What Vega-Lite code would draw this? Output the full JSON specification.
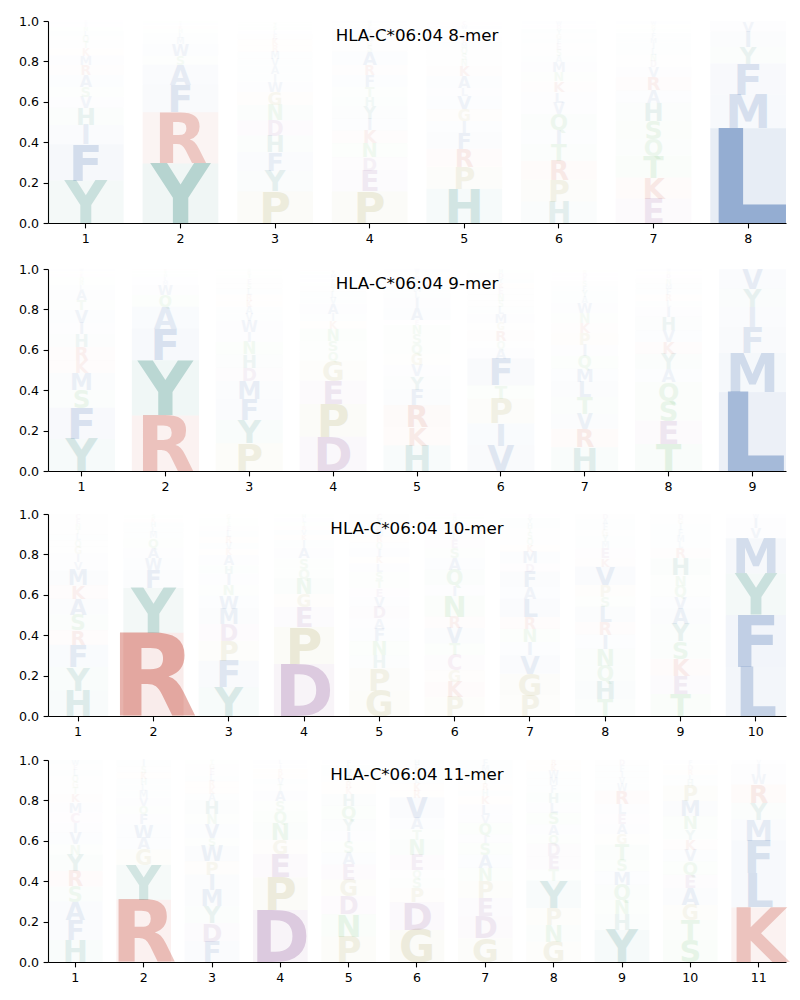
{
"$schema": "https://vega.github.io/schema/vega-lite/v6.json",
"padding": {"left": 18, "top": 15, "right": 5, "bottom": 5},
"background": "white",
"spacing": 14,
"config": {
  "view": {"stroke": null},
  "axis": {"labelFont": "DejaVu Sans", "labelFontSize": 12.6, "labelColor": "black", "tickColor": "black", "domainColor": "black", "tickSize": 4.9, "tickWidth": 1.1, "domainWidth": 1.1, "grid": false, "title": null, "labelPadding": 4.5}
},
"datasets": {
"m8": [
{"i":1,"a":"Y","h":0.21,"k":1},{"i":1,"a":"F","h":0.18,"k":2},{"i":1,"a":"I","h":0.094,"k":3},{"i":1,"a":"H","h":0.086,"k":4},{"i":1,"a":"V","h":0.055,"k":5},{"i":1,"a":"S","h":0.05,"k":6},{"i":1,"a":"A","h":0.058,"k":7},{"i":1,"a":"R","h":0.05,"k":8},{"i":1,"a":"M","h":0.046,"k":9},{"i":1,"a":"K","h":0.036,"k":10},{"i":1,"a":"T","h":0.03,"k":11},{"i":1,"a":"Q","h":0.03,"k":12},{"i":1,"a":"L","h":0.025,"k":13},{"i":1,"a":"N","h":0.02,"k":14},{"i":1,"a":"E","h":0.015,"k":15},{"i":1,"a":"W","h":0.01,"k":16},{"i":1,"a":"C","h":0.01,"k":17},
{"i":2,"a":"Y","h":0.295,"k":1},{"i":2,"a":"R","h":0.253,"k":2},{"i":2,"a":"F","h":0.136,"k":3},{"i":2,"a":"A","h":0.099,"k":4},{"i":2,"a":"S","h":0.045,"k":5},{"i":2,"a":"W","h":0.058,"k":6},{"i":2,"a":"M","h":0.03,"k":7},{"i":2,"a":"L","h":0.025,"k":8},{"i":2,"a":"H","h":0.02,"k":9},{"i":2,"a":"K","h":0.015,"k":10},{"i":2,"a":"I","h":0.014,"k":11},{"i":2,"a":"T","h":0.01,"k":12},
{"i":3,"a":"P","h":0.156,"k":1},{"i":3,"a":"Y","h":0.103,"k":2},{"i":3,"a":"F","h":0.091,"k":3},{"i":3,"a":"H","h":0.083,"k":4},{"i":3,"a":"D","h":0.075,"k":5},{"i":3,"a":"N","h":0.075,"k":6},{"i":3,"a":"G","h":0.066,"k":7},{"i":3,"a":"W","h":0.05,"k":8},{"i":3,"a":"I","h":0.04,"k":9},{"i":3,"a":"A","h":0.04,"k":10},{"i":3,"a":"V","h":0.035,"k":11},{"i":3,"a":"M","h":0.035,"k":12},{"i":3,"a":"R","h":0.03,"k":13},{"i":3,"a":"K","h":0.03,"k":14},{"i":3,"a":"E","h":0.025,"k":15},{"i":3,"a":"L","h":0.02,"k":16},{"i":3,"a":"S","h":0.02,"k":17},{"i":3,"a":"T","h":0.015,"k":18},{"i":3,"a":"Q","h":0.01,"k":19},
{"i":4,"a":"P","h":0.156,"k":1},{"i":4,"a":"E","h":0.103,"k":2},{"i":4,"a":"D","h":0.066,"k":3},{"i":4,"a":"N","h":0.07,"k":4},{"i":4,"a":"K","h":0.063,"k":5},{"i":4,"a":"I","h":0.058,"k":6},{"i":4,"a":"Y","h":0.063,"k":7},{"i":4,"a":"H","h":0.045,"k":8},{"i":4,"a":"T","h":0.05,"k":9},{"i":4,"a":"F","h":0.058,"k":10},{"i":4,"a":"R","h":0.05,"k":11},{"i":4,"a":"A","h":0.066,"k":12},{"i":4,"a":"S","h":0.03,"k":13},{"i":4,"a":"G","h":0.025,"k":14},{"i":4,"a":"M","h":0.025,"k":15},{"i":4,"a":"V","h":0.025,"k":16},{"i":4,"a":"L","h":0.02,"k":17},{"i":4,"a":"Q","h":0.015,"k":18},{"i":4,"a":"W","h":0.014,"k":19},
{"i":5,"a":"H","h":0.17,"k":1},{"i":5,"a":"P","h":0.109,"k":2},{"i":5,"a":"R","h":0.089,"k":3},{"i":5,"a":"F","h":0.079,"k":4},{"i":5,"a":"I","h":0.058,"k":5},{"i":5,"a":"G","h":0.058,"k":6},{"i":5,"a":"V","h":0.066,"k":7},{"i":5,"a":"L","h":0.041,"k":8},{"i":5,"a":"A","h":0.058,"k":9},{"i":5,"a":"K","h":0.05,"k":10},{"i":5,"a":"N","h":0.03,"k":11},{"i":5,"a":"S","h":0.03,"k":12},{"i":5,"a":"Q","h":0.03,"k":13},{"i":5,"a":"M","h":0.025,"k":14},{"i":5,"a":"E","h":0.025,"k":15},{"i":5,"a":"D","h":0.02,"k":16},{"i":5,"a":"T","h":0.02,"k":17},{"i":5,"a":"W","h":0.02,"k":18},{"i":5,"a":"C","h":0.02,"k":19},
{"i":6,"a":"H","h":0.106,"k":1},{"i":6,"a":"P","h":0.108,"k":2},{"i":6,"a":"R","h":0.094,"k":3},{"i":6,"a":"T","h":0.083,"k":4},{"i":6,"a":"I","h":0.071,"k":5},{"i":6,"a":"Q","h":0.078,"k":6},{"i":6,"a":"V","h":0.055,"k":7},{"i":6,"a":"L","h":0.053,"k":8},{"i":6,"a":"K","h":0.053,"k":9},{"i":6,"a":"N","h":0.046,"k":10},{"i":6,"a":"M","h":0.05,"k":11},{"i":6,"a":"A","h":0.03,"k":12},{"i":6,"a":"S","h":0.03,"k":13},{"i":6,"a":"E","h":0.03,"k":14},{"i":6,"a":"F","h":0.025,"k":15},{"i":6,"a":"G","h":0.025,"k":16},{"i":6,"a":"Y","h":0.025,"k":17},{"i":6,"a":"D","h":0.02,"k":18},{"i":6,"a":"W","h":0.019,"k":19},
{"i":7,"a":"E","h":0.121,"k":1},{"i":7,"a":"K","h":0.104,"k":2},{"i":7,"a":"T","h":0.108,"k":3},{"i":7,"a":"Q","h":0.083,"k":4},{"i":7,"a":"S","h":0.091,"k":5},{"i":7,"a":"H","h":0.088,"k":6},{"i":7,"a":"A","h":0.061,"k":7},{"i":7,"a":"R","h":0.066,"k":8},{"i":7,"a":"V","h":0.05,"k":9},{"i":7,"a":"D","h":0.03,"k":10},{"i":7,"a":"N","h":0.03,"k":11},{"i":7,"a":"L","h":0.03,"k":12},{"i":7,"a":"I","h":0.03,"k":13},{"i":7,"a":"M","h":0.025,"k":14},{"i":7,"a":"F","h":0.025,"k":15},{"i":7,"a":"Y","h":0.02,"k":16},{"i":7,"a":"G","h":0.02,"k":17},{"i":7,"a":"W","h":0.018,"k":18},
{"i":8,"a":"L","h":0.469,"k":1},{"i":8,"a":"M","h":0.166,"k":2},{"i":8,"a":"F","h":0.154,"k":3},{"i":8,"a":"Y","h":0.083,"k":4},{"i":8,"a":"I","h":0.075,"k":5},{"i":8,"a":"V","h":0.053,"k":6}
],
"m9": [
{"i":1,"a":"Y","h":0.159,"k":1},{"i":1,"a":"F","h":0.154,"k":2},{"i":1,"a":"S","h":0.089,"k":3},{"i":1,"a":"M","h":0.083,"k":4},{"i":1,"a":"K","h":0.063,"k":5},{"i":1,"a":"R","h":0.066,"k":6},{"i":1,"a":"H","h":0.063,"k":7},{"i":1,"a":"I","h":0.056,"k":8},{"i":1,"a":"V","h":0.063,"k":9},{"i":1,"a":"T","h":0.05,"k":10},{"i":1,"a":"A","h":0.05,"k":11},{"i":1,"a":"L","h":0.025,"k":12},{"i":1,"a":"N","h":0.02,"k":13},{"i":1,"a":"Q","h":0.02,"k":14},{"i":1,"a":"E","h":0.015,"k":15},{"i":1,"a":"G","h":0.012,"k":16},{"i":1,"a":"W","h":0.012,"k":17},
{"i":2,"a":"R","h":0.275,"k":1},{"i":2,"a":"Y","h":0.273,"k":2},{"i":2,"a":"F","h":0.157,"k":3},{"i":2,"a":"A","h":0.108,"k":4},{"i":2,"a":"Q","h":0.058,"k":5},{"i":2,"a":"W","h":0.05,"k":6},{"i":2,"a":"M","h":0.02,"k":7},{"i":2,"a":"L","h":0.02,"k":8},{"i":2,"a":"H","h":0.015,"k":9},{"i":2,"a":"S","h":0.015,"k":10},{"i":2,"a":"K","h":0.01,"k":11},
{"i":3,"a":"P","h":0.137,"k":1},{"i":3,"a":"Y","h":0.116,"k":2},{"i":3,"a":"F","h":0.104,"k":3},{"i":3,"a":"M","h":0.088,"k":4},{"i":3,"a":"D","h":0.066,"k":5},{"i":3,"a":"H","h":0.066,"k":6},{"i":3,"a":"N","h":0.061,"k":7},{"i":3,"a":"I","h":0.05,"k":8},{"i":3,"a":"W","h":0.055,"k":9},{"i":3,"a":"V","h":0.035,"k":10},{"i":3,"a":"A","h":0.035,"k":11},{"i":3,"a":"K","h":0.03,"k":12},{"i":3,"a":"R","h":0.03,"k":13},{"i":3,"a":"L","h":0.03,"k":14},{"i":3,"a":"S","h":0.025,"k":15},{"i":3,"a":"E","h":0.025,"k":16},{"i":3,"a":"T","h":0.02,"k":17},{"i":3,"a":"G","h":0.015,"k":18},{"i":3,"a":"Q","h":0.012,"k":19},
{"i":4,"a":"D","h":0.17,"k":1},{"i":4,"a":"P","h":0.162,"k":2},{"i":4,"a":"E","h":0.116,"k":3},{"i":4,"a":"G","h":0.099,"k":4},{"i":4,"a":"Q","h":0.046,"k":5},{"i":4,"a":"S","h":0.053,"k":6},{"i":4,"a":"N","h":0.058,"k":7},{"i":4,"a":"K","h":0.038,"k":8},{"i":4,"a":"I","h":0.036,"k":9},{"i":4,"a":"A","h":0.05,"k":10},{"i":4,"a":"V","h":0.03,"k":11},{"i":4,"a":"L","h":0.03,"k":12},{"i":4,"a":"T","h":0.025,"k":13},{"i":4,"a":"H","h":0.02,"k":14},{"i":4,"a":"F","h":0.02,"k":15},{"i":4,"a":"M","h":0.02,"k":16},{"i":4,"a":"Y","h":0.015,"k":17},{"i":4,"a":"R","h":0.01,"k":18},
{"i":5,"a":"H","h":0.126,"k":1},{"i":5,"a":"K","h":0.091,"k":2},{"i":5,"a":"R","h":0.108,"k":3},{"i":5,"a":"F","h":0.078,"k":4},{"i":5,"a":"Y","h":0.066,"k":5},{"i":5,"a":"V","h":0.055,"k":6},{"i":5,"a":"G","h":0.055,"k":7},{"i":5,"a":"Q","h":0.05,"k":8},{"i":5,"a":"S","h":0.05,"k":9},{"i":5,"a":"N","h":0.045,"k":10},{"i":5,"a":"E","h":0.023,"k":11},{"i":5,"a":"A","h":0.058,"k":12},{"i":5,"a":"I","h":0.05,"k":13},{"i":5,"a":"L","h":0.03,"k":14},{"i":5,"a":"M","h":0.03,"k":15},{"i":5,"a":"T","h":0.03,"k":16},{"i":5,"a":"D","h":0.02,"k":17},{"i":5,"a":"P","h":0.02,"k":18},{"i":5,"a":"W","h":0.016,"k":19},
{"i":6,"a":"V","h":0.126,"k":1},{"i":6,"a":"I","h":0.111,"k":2},{"i":6,"a":"P","h":0.121,"k":3},{"i":6,"a":"T","h":0.066,"k":4},{"i":6,"a":"F","h":0.132,"k":5},{"i":6,"a":"A","h":0.05,"k":6},{"i":6,"a":"Q","h":0.038,"k":7},{"i":6,"a":"R","h":0.053,"k":8},{"i":6,"a":"G","h":0.036,"k":9},{"i":6,"a":"M","h":0.046,"k":10},{"i":6,"a":"L","h":0.035,"k":11},{"i":6,"a":"S","h":0.03,"k":12},{"i":6,"a":"N","h":0.03,"k":13},{"i":6,"a":"E","h":0.03,"k":14},{"i":6,"a":"K","h":0.025,"k":15},{"i":6,"a":"Y","h":0.025,"k":16},{"i":6,"a":"D","h":0.025,"k":17},{"i":6,"a":"H","h":0.02,"k":18},
{"i":7,"a":"H","h":0.118,"k":1},{"i":7,"a":"R","h":0.091,"k":2},{"i":7,"a":"V","h":0.075,"k":3},{"i":7,"a":"T","h":0.083,"k":4},{"i":7,"a":"L","h":0.075,"k":5},{"i":7,"a":"M","h":0.066,"k":6},{"i":7,"a":"Q","h":0.061,"k":7},{"i":7,"a":"I","h":0.055,"k":8},{"i":7,"a":"P","h":0.058,"k":9},{"i":7,"a":"K","h":0.05,"k":10},{"i":7,"a":"N","h":0.05,"k":11},{"i":7,"a":"W","h":0.05,"k":12},{"i":7,"a":"A","h":0.03,"k":13},{"i":7,"a":"Y","h":0.03,"k":14},{"i":7,"a":"F","h":0.025,"k":15},{"i":7,"a":"S","h":0.025,"k":16},{"i":7,"a":"E","h":0.02,"k":17},{"i":7,"a":"D","h":0.02,"k":18},{"i":7,"a":"G","h":0.015,"k":19},
{"i":8,"a":"T","h":0.134,"k":1},{"i":8,"a":"E","h":0.116,"k":2},{"i":8,"a":"S","h":0.099,"k":3},{"i":8,"a":"Q","h":0.091,"k":4},{"i":8,"a":"A","h":0.066,"k":5},{"i":8,"a":"Y","h":0.075,"k":6},{"i":8,"a":"K","h":0.058,"k":7},{"i":8,"a":"V","h":0.058,"k":8},{"i":8,"a":"H","h":0.066,"k":9},{"i":8,"a":"I","h":0.05,"k":10},{"i":8,"a":"L","h":0.03,"k":11},{"i":8,"a":"R","h":0.03,"k":12},{"i":8,"a":"F","h":0.03,"k":13},{"i":8,"a":"M","h":0.025,"k":14},{"i":8,"a":"N","h":0.025,"k":15},{"i":8,"a":"D","h":0.02,"k":16},{"i":8,"a":"G","h":0.015,"k":17},{"i":8,"a":"W","h":0.012,"k":18},
{"i":9,"a":"L","h":0.39,"k":1},{"i":9,"a":"M","h":0.194,"k":2},{"i":9,"a":"F","h":0.129,"k":3},{"i":9,"a":"I","h":0.099,"k":4},{"i":9,"a":"Y","h":0.091,"k":5},{"i":9,"a":"V","h":0.096,"k":6}
],
"m10": [
{"i":1,"a":"H","h":0.126,"k":1},{"i":1,"a":"Y","h":0.116,"k":2},{"i":1,"a":"F","h":0.111,"k":3},{"i":1,"a":"R","h":0.071,"k":4},{"i":1,"a":"S","h":0.078,"k":5},{"i":1,"a":"A","h":0.079,"k":6},{"i":1,"a":"K","h":0.066,"k":7},{"i":1,"a":"M","h":0.075,"k":8},{"i":1,"a":"V","h":0.041,"k":9},{"i":1,"a":"I","h":0.041,"k":10},{"i":1,"a":"G","h":0.035,"k":11},{"i":1,"a":"Q","h":0.03,"k":12},{"i":1,"a":"L","h":0.03,"k":13},{"i":1,"a":"T","h":0.025,"k":14},{"i":1,"a":"N","h":0.025,"k":15},{"i":1,"a":"E","h":0.025,"k":16},{"i":1,"a":"C","h":0.025,"k":17},
{"i":2,"a":"R","h":0.412,"k":1},{"i":2,"a":"Y","h":0.222,"k":2},{"i":2,"a":"F","h":0.088,"k":3},{"i":2,"a":"W","h":0.058,"k":4},{"i":2,"a":"A","h":0.053,"k":5},{"i":2,"a":"Q","h":0.046,"k":6},{"i":2,"a":"M","h":0.03,"k":7},{"i":2,"a":"L","h":0.025,"k":8},{"i":2,"a":"H","h":0.025,"k":9},{"i":2,"a":"K","h":0.02,"k":10},{"i":2,"a":"S","h":0.02,"k":11},
{"i":3,"a":"Y","h":0.142,"k":1},{"i":3,"a":"F","h":0.132,"k":2},{"i":3,"a":"P","h":0.099,"k":3},{"i":3,"a":"D","h":0.083,"k":4},{"i":3,"a":"M","h":0.075,"k":5},{"i":3,"a":"W","h":0.066,"k":6},{"i":3,"a":"N","h":0.053,"k":7},{"i":3,"a":"I","h":0.055,"k":8},{"i":3,"a":"H","h":0.041,"k":9},{"i":3,"a":"A","h":0.05,"k":10},{"i":3,"a":"K","h":0.03,"k":11},{"i":3,"a":"V","h":0.03,"k":12},{"i":3,"a":"R","h":0.03,"k":13},{"i":3,"a":"L","h":0.03,"k":14},{"i":3,"a":"E","h":0.025,"k":15},{"i":3,"a":"S","h":0.02,"k":16},{"i":3,"a":"T","h":0.02,"k":17},{"i":3,"a":"G","h":0.019,"k":18},
{"i":4,"a":"D","h":0.258,"k":1},{"i":4,"a":"P","h":0.182,"k":2},{"i":4,"a":"E","h":0.099,"k":3},{"i":4,"a":"G","h":0.066,"k":4},{"i":4,"a":"N","h":0.075,"k":5},{"i":4,"a":"Q","h":0.05,"k":6},{"i":4,"a":"S","h":0.05,"k":7},{"i":4,"a":"A","h":0.053,"k":8},{"i":4,"a":"I","h":0.038,"k":9},{"i":4,"a":"K","h":0.025,"k":10},{"i":4,"a":"V","h":0.025,"k":11},{"i":4,"a":"R","h":0.02,"k":12},{"i":4,"a":"T","h":0.02,"k":13},{"i":4,"a":"L","h":0.02,"k":14},{"i":4,"a":"H","h":0.019,"k":15},
{"i":5,"a":"G","h":0.126,"k":1},{"i":5,"a":"P","h":0.111,"k":2},{"i":5,"a":"H","h":0.063,"k":3},{"i":5,"a":"N","h":0.07,"k":4},{"i":5,"a":"F","h":0.063,"k":5},{"i":5,"a":"A","h":0.05,"k":6},{"i":5,"a":"D","h":0.058,"k":7},{"i":5,"a":"V","h":0.05,"k":8},{"i":5,"a":"E","h":0.041,"k":9},{"i":5,"a":"T","h":0.041,"k":10},{"i":5,"a":"S","h":0.041,"k":11},{"i":5,"a":"L","h":0.041,"k":12},{"i":5,"a":"K","h":0.033,"k":13},{"i":5,"a":"I","h":0.041,"k":14},{"i":5,"a":"Q","h":0.03,"k":15},{"i":5,"a":"R","h":0.03,"k":16},{"i":5,"a":"M","h":0.03,"k":17},{"i":5,"a":"W","h":0.025,"k":18},{"i":5,"a":"Y","h":0.03,"k":19},{"i":5,"a":"C","h":0.026,"k":20},
{"i":6,"a":"P","h":0.093,"k":1},{"i":6,"a":"K","h":0.075,"k":2},{"i":6,"a":"G","h":0.058,"k":3},{"i":6,"a":"C","h":0.075,"k":4},{"i":6,"a":"T","h":0.058,"k":5},{"i":6,"a":"V","h":0.075,"k":6},{"i":6,"a":"R","h":0.058,"k":7},{"i":6,"a":"N","h":0.104,"k":8},{"i":6,"a":"I","h":0.053,"k":9},{"i":6,"a":"Q","h":0.075,"k":10},{"i":6,"a":"A","h":0.058,"k":11},{"i":6,"a":"S","h":0.05,"k":12},{"i":6,"a":"E","h":0.041,"k":13},{"i":6,"a":"L","h":0.03,"k":14},{"i":6,"a":"F","h":0.025,"k":15},{"i":6,"a":"M","h":0.025,"k":16},{"i":6,"a":"Y","h":0.02,"k":17},{"i":6,"a":"H","h":0.015,"k":18},{"i":6,"a":"D","h":0.014,"k":19},
{"i":7,"a":"P","h":0.101,"k":1},{"i":7,"a":"G","h":0.108,"k":2},{"i":7,"a":"V","h":0.091,"k":3},{"i":7,"a":"I","h":0.066,"k":4},{"i":7,"a":"N","h":0.066,"k":5},{"i":7,"a":"R","h":0.058,"k":6},{"i":7,"a":"L","h":0.091,"k":7},{"i":7,"a":"A","h":0.058,"k":8},{"i":7,"a":"F","h":0.075,"k":9},{"i":7,"a":"D","h":0.041,"k":10},{"i":7,"a":"M","h":0.058,"k":11},{"i":7,"a":"K","h":0.033,"k":12},{"i":7,"a":"Q","h":0.03,"k":13},{"i":7,"a":"S","h":0.03,"k":14},{"i":7,"a":"T","h":0.025,"k":15},{"i":7,"a":"H","h":0.025,"k":16},{"i":7,"a":"Y","h":0.025,"k":17},{"i":7,"a":"E","h":0.019,"k":18},
{"i":8,"a":"T","h":0.084,"k":1},{"i":8,"a":"H","h":0.091,"k":2},{"i":8,"a":"Q","h":0.075,"k":3},{"i":8,"a":"N","h":0.083,"k":4},{"i":8,"a":"I","h":0.07,"k":5},{"i":8,"a":"R","h":0.063,"k":6},{"i":8,"a":"L","h":0.075,"k":7},{"i":8,"a":"S","h":0.05,"k":8},{"i":8,"a":"P","h":0.058,"k":9},{"i":8,"a":"V","h":0.091,"k":10},{"i":8,"a":"K","h":0.041,"k":11},{"i":8,"a":"E","h":0.05,"k":12},{"i":8,"a":"M","h":0.03,"k":13},{"i":8,"a":"Y","h":0.03,"k":14},{"i":8,"a":"G","h":0.03,"k":15},{"i":8,"a":"F","h":0.03,"k":16},{"i":8,"a":"A","h":0.025,"k":17},{"i":8,"a":"D","h":0.025,"k":18},
{"i":9,"a":"T","h":0.109,"k":1},{"i":9,"a":"E","h":0.091,"k":2},{"i":9,"a":"K","h":0.083,"k":3},{"i":9,"a":"S","h":0.086,"k":4},{"i":9,"a":"Y","h":0.088,"k":5},{"i":9,"a":"A","h":0.075,"k":6},{"i":9,"a":"V","h":0.058,"k":7},{"i":9,"a":"Q","h":0.055,"k":8},{"i":9,"a":"N","h":0.053,"k":9},{"i":9,"a":"H","h":0.083,"k":10},{"i":9,"a":"R","h":0.05,"k":11},{"i":9,"a":"L","h":0.03,"k":12},{"i":9,"a":"M","h":0.03,"k":13},{"i":9,"a":"F","h":0.03,"k":14},{"i":9,"a":"I","h":0.03,"k":15},{"i":9,"a":"G","h":0.025,"k":16},{"i":9,"a":"D","h":0.025,"k":17},
{"i":10,"a":"L","h":0.242,"k":1},{"i":10,"a":"F","h":0.257,"k":2},{"i":10,"a":"Y","h":0.207,"k":3},{"i":10,"a":"M","h":0.174,"k":4},{"i":10,"a":"V","h":0.05,"k":5},{"i":10,"a":"I","h":0.05,"k":6},{"i":10,"a":"W","h":0.02,"k":7}
],
"m11": [
{"i":1,"a":"H","h":0.109,"k":1},{"i":1,"a":"F","h":0.099,"k":2},{"i":1,"a":"A","h":0.091,"k":3},{"i":1,"a":"S","h":0.075,"k":4},{"i":1,"a":"R","h":0.075,"k":5},{"i":1,"a":"Y","h":0.083,"k":6},{"i":1,"a":"N","h":0.05,"k":7},{"i":1,"a":"V","h":0.058,"k":8},{"i":1,"a":"I","h":0.05,"k":9},{"i":1,"a":"C","h":0.05,"k":10},{"i":1,"a":"M","h":0.05,"k":11},{"i":1,"a":"K","h":0.041,"k":12},{"i":1,"a":"T","h":0.03,"k":13},{"i":1,"a":"G","h":0.03,"k":14},{"i":1,"a":"Q","h":0.03,"k":15},{"i":1,"a":"L","h":0.03,"k":16},{"i":1,"a":"E","h":0.025,"k":17},{"i":1,"a":"W","h":0.025,"k":18},
{"i":2,"a":"R","h":0.308,"k":1},{"i":2,"a":"Y","h":0.174,"k":2},{"i":2,"a":"G","h":0.075,"k":3},{"i":2,"a":"A","h":0.058,"k":4},{"i":2,"a":"W","h":0.066,"k":5},{"i":2,"a":"F","h":0.05,"k":6},{"i":2,"a":"Q","h":0.041,"k":7},{"i":2,"a":"V","h":0.041,"k":8},{"i":2,"a":"M","h":0.035,"k":9},{"i":2,"a":"L","h":0.03,"k":10},{"i":2,"a":"H","h":0.03,"k":11},{"i":2,"a":"K","h":0.03,"k":12},{"i":2,"a":"S","h":0.03,"k":13},{"i":2,"a":"I","h":0.032,"k":14},
{"i":3,"a":"F","h":0.101,"k":1},{"i":3,"a":"D","h":0.091,"k":2},{"i":3,"a":"Y","h":0.083,"k":3},{"i":3,"a":"M","h":0.083,"k":4},{"i":3,"a":"I","h":0.075,"k":5},{"i":3,"a":"P","h":0.066,"k":6},{"i":3,"a":"W","h":0.075,"k":7},{"i":3,"a":"S","h":0.041,"k":8},{"i":3,"a":"V","h":0.068,"k":9},{"i":3,"a":"N","h":0.05,"k":10},{"i":3,"a":"H","h":0.066,"k":11},{"i":3,"a":"A","h":0.035,"k":12},{"i":3,"a":"K","h":0.03,"k":13},{"i":3,"a":"R","h":0.03,"k":14},{"i":3,"a":"L","h":0.03,"k":15},{"i":3,"a":"E","h":0.03,"k":16},{"i":3,"a":"G","h":0.025,"k":17},{"i":3,"a":"T","h":0.021,"k":18},
{"i":4,"a":"D","h":0.258,"k":1},{"i":4,"a":"P","h":0.161,"k":2},{"i":4,"a":"E","h":0.116,"k":3},{"i":4,"a":"G","h":0.071,"k":4},{"i":4,"a":"N","h":0.083,"k":5},{"i":4,"a":"Q","h":0.058,"k":6},{"i":4,"a":"S","h":0.05,"k":7},{"i":4,"a":"A","h":0.05,"k":8},{"i":4,"a":"T","h":0.03,"k":9},{"i":4,"a":"V","h":0.03,"k":10},{"i":4,"a":"K","h":0.025,"k":11},{"i":4,"a":"R","h":0.025,"k":12},{"i":4,"a":"I","h":0.022,"k":13},{"i":4,"a":"L","h":0.021,"k":14},
{"i":5,"a":"P","h":0.126,"k":1},{"i":5,"a":"N","h":0.111,"k":2},{"i":5,"a":"D","h":0.088,"k":3},{"i":5,"a":"G","h":0.083,"k":4},{"i":5,"a":"E","h":0.075,"k":5},{"i":5,"a":"A","h":0.058,"k":6},{"i":5,"a":"S","h":0.055,"k":7},{"i":5,"a":"I","h":0.053,"k":8},{"i":5,"a":"Y","h":0.058,"k":9},{"i":5,"a":"Q","h":0.066,"k":10},{"i":5,"a":"H","h":0.058,"k":11},{"i":5,"a":"K","h":0.03,"k":12},{"i":5,"a":"R","h":0.03,"k":13},{"i":5,"a":"T","h":0.03,"k":14},{"i":5,"a":"V","h":0.03,"k":15},{"i":5,"a":"L","h":0.025,"k":16},{"i":5,"a":"F","h":0.024,"k":17},
{"i":6,"a":"G","h":0.159,"k":1},{"i":6,"a":"D","h":0.137,"k":2},{"i":6,"a":"P","h":0.07,"k":3},{"i":6,"a":"S","h":0.05,"k":4},{"i":6,"a":"Q","h":0.04,"k":5},{"i":6,"a":"E","h":0.075,"k":6},{"i":6,"a":"N","h":0.075,"k":7},{"i":6,"a":"T","h":0.05,"k":8},{"i":6,"a":"A","h":0.058,"k":9},{"i":6,"a":"V","h":0.1,"k":10},{"i":6,"a":"R","h":0.035,"k":11},{"i":6,"a":"K","h":0.035,"k":12},{"i":6,"a":"L","h":0.03,"k":13},{"i":6,"a":"M","h":0.03,"k":14},{"i":6,"a":"F","h":0.03,"k":15},{"i":6,"a":"H","h":0.026,"k":16},
{"i":7,"a":"G","h":0.118,"k":1},{"i":7,"a":"D","h":0.108,"k":2},{"i":7,"a":"E","h":0.091,"k":3},{"i":7,"a":"P","h":0.083,"k":4},{"i":7,"a":"N","h":0.066,"k":5},{"i":7,"a":"A","h":0.066,"k":6},{"i":7,"a":"S","h":0.058,"k":7},{"i":7,"a":"I","h":0.041,"k":8},{"i":7,"a":"Q","h":0.058,"k":9},{"i":7,"a":"V","h":0.041,"k":10},{"i":7,"a":"L","h":0.05,"k":11},{"i":7,"a":"K","h":0.04,"k":12},{"i":7,"a":"H","h":0.03,"k":13},{"i":7,"a":"R","h":0.03,"k":14},{"i":7,"a":"T","h":0.03,"k":15},{"i":7,"a":"Y","h":0.03,"k":16},{"i":7,"a":"M","h":0.03,"k":17},{"i":7,"a":"F","h":0.03,"k":18},
{"i":8,"a":"G","h":0.101,"k":1},{"i":8,"a":"N","h":0.083,"k":2},{"i":8,"a":"P","h":0.083,"k":3},{"i":8,"a":"Y","h":0.136,"k":4},{"i":8,"a":"T","h":0.055,"k":5},{"i":8,"a":"E","h":0.066,"k":6},{"i":8,"a":"D","h":0.061,"k":7},{"i":8,"a":"Q","h":0.046,"k":8},{"i":8,"a":"A","h":0.05,"k":9},{"i":8,"a":"S","h":0.058,"k":10},{"i":8,"a":"L","h":0.05,"k":11},{"i":8,"a":"H","h":0.05,"k":12},{"i":8,"a":"F","h":0.035,"k":13},{"i":8,"a":"M","h":0.035,"k":14},{"i":8,"a":"W","h":0.035,"k":15},{"i":8,"a":"K","h":0.03,"k":16},{"i":8,"a":"R","h":0.026,"k":17},
{"i":9,"a":"Y","h":0.159,"k":1},{"i":9,"a":"H","h":0.078,"k":2},{"i":9,"a":"N","h":0.071,"k":3},{"i":9,"a":"Q","h":0.075,"k":4},{"i":9,"a":"M","h":0.066,"k":5},{"i":9,"a":"S","h":0.058,"k":6},{"i":9,"a":"T","h":0.075,"k":7},{"i":9,"a":"G","h":0.05,"k":8},{"i":9,"a":"A","h":0.05,"k":9},{"i":9,"a":"E","h":0.05,"k":10},{"i":9,"a":"L","h":0.05,"k":11},{"i":9,"a":"R","h":0.066,"k":12},{"i":9,"a":"W","h":0.035,"k":13},{"i":9,"a":"V","h":0.03,"k":14},{"i":9,"a":"I","h":0.03,"k":15},{"i":9,"a":"F","h":0.03,"k":16},{"i":9,"a":"D","h":0.027,"k":17},
{"i":10,"a":"S","h":0.109,"k":1},{"i":10,"a":"T","h":0.099,"k":2},{"i":10,"a":"G","h":0.075,"k":3},{"i":10,"a":"A","h":0.083,"k":4},{"i":10,"a":"E","h":0.066,"k":5},{"i":10,"a":"Q","h":0.066,"k":6},{"i":10,"a":"V","h":0.058,"k":7},{"i":10,"a":"K","h":0.05,"k":8},{"i":10,"a":"Y","h":0.05,"k":9},{"i":10,"a":"N","h":0.066,"k":10},{"i":10,"a":"M","h":0.075,"k":11},{"i":10,"a":"P","h":0.075,"k":12},{"i":10,"a":"H","h":0.03,"k":13},{"i":10,"a":"L","h":0.025,"k":14},{"i":10,"a":"R","h":0.025,"k":15},{"i":10,"a":"D","h":0.025,"k":16},{"i":10,"a":"F","h":0.023,"k":17},
{"i":11,"a":"K","h":0.27,"k":1},{"i":11,"a":"L","h":0.17,"k":2},{"i":11,"a":"F","h":0.161,"k":3},{"i":11,"a":"M","h":0.104,"k":4},{"i":11,"a":"Y","h":0.083,"k":5},{"i":11,"a":"R","h":0.091,"k":6},{"i":11,"a":"W","h":0.05,"k":7},{"i":11,"a":"I","h":0.05,"k":8},{"i":11,"a":"V","h":0.021,"k":9}
],
"titles": [{"t": "HLA-C*06:04 8-mer", "n": 8}, {"t": "HLA-C*06:04 9-mer", "n": 9}, {"t": "HLA-C*06:04 10-mer", "n": 10}, {"t": "HLA-C*06:04 11-mer", "n": 11}]
},
"vconcat": [
{
 "width": 738, "height": 202,
 "resolve": {"scale": {"opacity": "independent"}},
 "layer": [
  {"data": {"name": "m8"},
   "transform": [{"stack": "h", "groupby": ["i"], "sort": [{"field": "k", "order": "ascending"}], "as": ["y0", "y1"]}],
   "mark": {"type": "rect"},
   "encoding": {
    "x": {"field": "i", "type": "ordinal", "scale": {"paddingInner": 0.2, "paddingOuter": 0}, "axis": {"labelAngle": 0}},
    "y": {"field": "y0", "type": "quantitative", "scale": {"domain": [0, 1]}, "axis": {"values": [0, 0.2, 0.4, 0.6, 0.8, 1], "format": ".1f"}},
    "y2": {"field": "y1"},
    "color": {"field": "a", "type": "nominal", "legend": null, "scale": {"domain": ["A","C","D","E","F","G","H","I","K","L","M","N","P","Q","R","S","T","V","W","Y"], "range": ["#3060a8","#b04f98","#894c95","#894c95","#3060a8","#a39a45","#258074","#3060a8","#c3402f","#3060a8","#3060a8","#4caf50","#a39a45","#4caf50","#c3402f","#4caf50","#4caf50","#3060a8","#3060a8","#258074"]}},
    "opacity": {"field": "h", "type": "quantitative", "legend": null, "scale": {"domain": [0, 0.5], "range": [0, 0.12]}}}},
  {"data": {"name": "m8"},
   "transform": [{"stack": "h", "groupby": ["i"], "sort": [{"field": "k", "order": "ascending"}], "as": ["y0", "y1"]}],
   "mark": {"type": "text", "baseline": "alphabetic", "align": "center", "font": "DejaVu Sans", "fontWeight": "bold"},
   "encoding": {
    "x": {"field": "i", "type": "ordinal"},
    "y": {"field": "y0", "type": "quantitative"},
    "text": {"field": "a"},
    "color": {"field": "a", "type": "nominal", "legend": null},
    "size": {"field": "h", "type": "quantitative", "legend": null, "scale": {"domain": [0, 1], "range": [0, 277]}},
    "opacity": {"field": "h", "type": "quantitative", "legend": null, "scale": {"domain": [0, 0.5], "range": [0, 0.48]}}}},
  {"data": {"name": "titles"},
   "transform": [{"filter": "datum.n == 8"}],
   "mark": {"type": "text", "baseline": "middle", "align": "center", "font": "DejaVu Sans", "fontSize": 16.7, "color": "black", "x": {"expr": "width/2"}},
   "encoding": {"y": {"datum": 0.925}, "text": {"field": "t"}}}
 ]
},
{
 "width": 738, "height": 202,
 "resolve": {"scale": {"opacity": "independent"}},
 "layer": [
  {"data": {"name": "m9"},
   "transform": [{"stack": "h", "groupby": ["i"], "sort": [{"field": "k", "order": "ascending"}], "as": ["y0", "y1"]}],
   "mark": {"type": "rect"},
   "encoding": {
    "x": {"field": "i", "type": "ordinal", "scale": {"paddingInner": 0.2, "paddingOuter": 0}, "axis": {"labelAngle": 0}},
    "y": {"field": "y0", "type": "quantitative", "scale": {"domain": [0, 1]}, "axis": {"values": [0, 0.2, 0.4, 0.6, 0.8, 1], "format": ".1f"}},
    "y2": {"field": "y1"},
    "color": {"field": "a", "type": "nominal", "legend": null},
    "opacity": {"field": "h", "type": "quantitative", "legend": null, "scale": {"domain": [0, 0.5], "range": [0, 0.12]}}}},
  {"data": {"name": "m9"},
   "transform": [{"stack": "h", "groupby": ["i"], "sort": [{"field": "k", "order": "ascending"}], "as": ["y0", "y1"]}],
   "mark": {"type": "text", "baseline": "alphabetic", "align": "center", "font": "DejaVu Sans", "fontWeight": "bold"},
   "encoding": {
    "x": {"field": "i", "type": "ordinal"},
    "y": {"field": "y0", "type": "quantitative"},
    "text": {"field": "a"},
    "color": {"field": "a", "type": "nominal", "legend": null},
    "size": {"field": "h", "type": "quantitative", "legend": null, "scale": {"domain": [0, 1], "range": [0, 277]}},
    "opacity": {"field": "h", "type": "quantitative", "legend": null, "scale": {"domain": [0, 0.5], "range": [0, 0.48]}}}},
  {"data": {"name": "titles"},
   "transform": [{"filter": "datum.n == 9"}],
   "mark": {"type": "text", "baseline": "middle", "align": "center", "font": "DejaVu Sans", "fontSize": 16.7, "color": "black", "x": {"expr": "width/2"}},
   "encoding": {"y": {"datum": 0.925}, "text": {"field": "t"}}}
 ]
},
{
 "width": 738, "height": 202,
 "resolve": {"scale": {"opacity": "independent"}},
 "layer": [
  {"data": {"name": "m10"},
   "transform": [{"stack": "h", "groupby": ["i"], "sort": [{"field": "k", "order": "ascending"}], "as": ["y0", "y1"]}],
   "mark": {"type": "rect"},
   "encoding": {
    "x": {"field": "i", "type": "ordinal", "scale": {"paddingInner": 0.2, "paddingOuter": 0}, "axis": {"labelAngle": 0}},
    "y": {"field": "y0", "type": "quantitative", "scale": {"domain": [0, 1]}, "axis": {"values": [0, 0.2, 0.4, 0.6, 0.8, 1], "format": ".1f"}},
    "y2": {"field": "y1"},
    "color": {"field": "a", "type": "nominal", "legend": null},
    "opacity": {"field": "h", "type": "quantitative", "legend": null, "scale": {"domain": [0, 0.5], "range": [0, 0.12]}}}},
  {"data": {"name": "m10"},
   "transform": [{"stack": "h", "groupby": ["i"], "sort": [{"field": "k", "order": "ascending"}], "as": ["y0", "y1"]}],
   "mark": {"type": "text", "baseline": "alphabetic", "align": "center", "font": "DejaVu Sans", "fontWeight": "bold"},
   "encoding": {
    "x": {"field": "i", "type": "ordinal"},
    "y": {"field": "y0", "type": "quantitative"},
    "text": {"field": "a"},
    "color": {"field": "a", "type": "nominal", "legend": null},
    "size": {"field": "h", "type": "quantitative", "legend": null, "scale": {"domain": [0, 1], "range": [0, 277]}},
    "opacity": {"field": "h", "type": "quantitative", "legend": null, "scale": {"domain": [0, 0.5], "range": [0, 0.48]}}}},
  {"data": {"name": "titles"},
   "transform": [{"filter": "datum.n == 10"}],
   "mark": {"type": "text", "baseline": "middle", "align": "center", "font": "DejaVu Sans", "fontSize": 16.7, "color": "black", "x": {"expr": "width/2"}},
   "encoding": {"y": {"datum": 0.925}, "text": {"field": "t"}}}
 ]
},
{
 "width": 738, "height": 202,
 "resolve": {"scale": {"opacity": "independent"}},
 "layer": [
  {"data": {"name": "m11"},
   "transform": [{"stack": "h", "groupby": ["i"], "sort": [{"field": "k", "order": "ascending"}], "as": ["y0", "y1"]}],
   "mark": {"type": "rect"},
   "encoding": {
    "x": {"field": "i", "type": "ordinal", "scale": {"paddingInner": 0.2, "paddingOuter": 0}, "axis": {"labelAngle": 0}},
    "y": {"field": "y0", "type": "quantitative", "scale": {"domain": [0, 1]}, "axis": {"values": [0, 0.2, 0.4, 0.6, 0.8, 1], "format": ".1f"}},
    "y2": {"field": "y1"},
    "color": {"field": "a", "type": "nominal", "legend": null},
    "opacity": {"field": "h", "type": "quantitative", "legend": null, "scale": {"domain": [0, 0.5], "range": [0, 0.12]}}}},
  {"data": {"name": "m11"},
   "transform": [{"stack": "h", "groupby": ["i"], "sort": [{"field": "k", "order": "ascending"}], "as": ["y0", "y1"]}],
   "mark": {"type": "text", "baseline": "alphabetic", "align": "center", "font": "DejaVu Sans", "fontWeight": "bold"},
   "encoding": {
    "x": {"field": "i", "type": "ordinal"},
    "y": {"field": "y0", "type": "quantitative"},
    "text": {"field": "a"},
    "color": {"field": "a", "type": "nominal", "legend": null},
    "size": {"field": "h", "type": "quantitative", "legend": null, "scale": {"domain": [0, 1], "range": [0, 277]}},
    "opacity": {"field": "h", "type": "quantitative", "legend": null, "scale": {"domain": [0, 0.5], "range": [0, 0.48]}}}},
  {"data": {"name": "titles"},
   "transform": [{"filter": "datum.n == 11"}],
   "mark": {"type": "text", "baseline": "middle", "align": "center", "font": "DejaVu Sans", "fontSize": 16.7, "color": "black", "x": {"expr": "width/2"}},
   "encoding": {"y": {"datum": 0.925}, "text": {"field": "t"}}}
 ]
}
]
}
